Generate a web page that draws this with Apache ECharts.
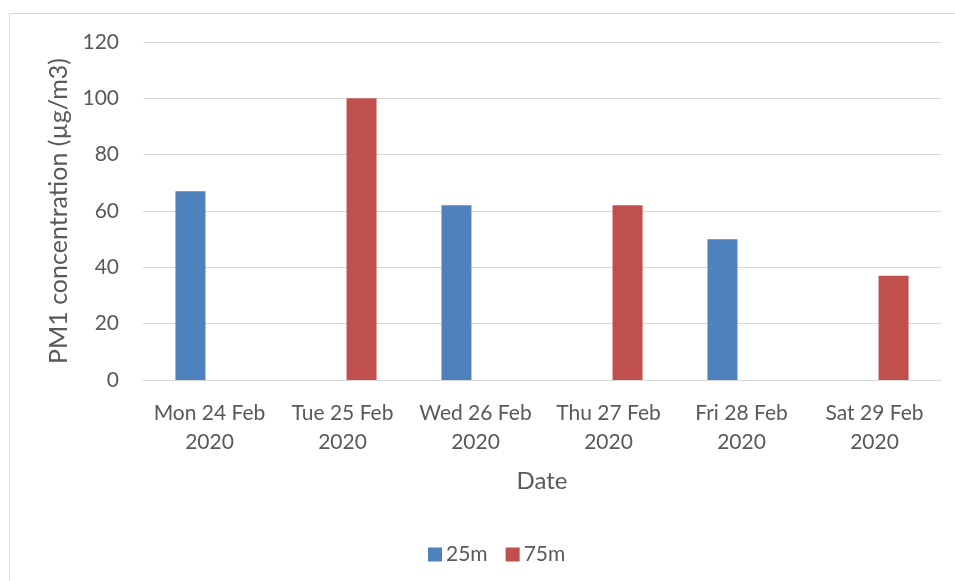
<!DOCTYPE html>
<html>
<head>
<meta charset="utf-8">
<script src="https://cdn.jsdelivr.net/npm/echarts@6/dist/echarts.min.js"></script>
<style>
html,body{margin:0;padding:0;background:#fff;}
#frame{position:absolute;left:9px;top:13px;width:1000px;height:700px;border:1px solid #d9d9d9;box-sizing:border-box;}
#main{position:absolute;left:0;top:0;width:955px;height:581px;}
</style>
</head>
<body>
<div id="frame"></div>
<div id="main"></div>
<script>
const categories = ['Mon 24 Feb\n2020','Tue 25 Feb\n2020','Wed 26 Feb\n2020','Thu 27 Feb\n2020','Fri 28 Feb\n2020','Sat 29 Feb\n2020'];
const series25m = [67, null, 62, null, 50, null];
const series75m = [null, 100, null, 62, null, 37];
const yTicks = {min: 0, max: 120, interval: 20};

const font = 'Lato, Open Sans, sans-serif';
const chart = echarts.init(document.getElementById('main'), null, {renderer: 'canvas'});
chart.setOption({
  animation: false,
  backgroundColor: 'transparent',
  grid: {left: 143, right: 14, top: 42, bottom: 201, containLabel: false},
  legend: {
    data: ['25m','75m'],
    left: 423, top: 539,
    itemWidth: 14, itemHeight: 14, itemGap: 18,
    icon: 'rect',
    textStyle: {color: '#595959', fontSize: 21, fontFamily: font, padding: [0,0,0,-1]}
  },
  xAxis: {
    type: 'category',
    data: categories,
    name: 'Date',
    nameLocation: 'middle',
    nameGap: 89,
    nameTextStyle: {color: '#595959', fontSize: 24, fontFamily: font},
    axisLine: {show: true, lineStyle: {color: '#d9d9d9', width: 1}},
    axisTick: {show: false},
    axisLabel: {color: '#595959', fontSize: 21, fontFamily: font, lineHeight: 29, margin: 19, interval: 0}
  },
  yAxis: {
    type: 'value',
    min: yTicks.min, max: yTicks.max, interval: yTicks.interval,
    name: 'PM1 concentration (µg/m3)',
    nameLocation: 'middle',
    nameGap: 68,
    nameRotate: 90,
    nameTextStyle: {color: '#595959', fontSize: 25, fontFamily: font},
    axisLine: {show: false},
    axisTick: {show: false},
    axisLabel: {color: '#595959', fontSize: 21, fontFamily: font, margin: 24},
    splitLine: {lineStyle: {color: '#d9d9d9', width: 1}}
  },
  series: [
    {name: '25m', type: 'bar', data: series25m, barWidth: 30, barGap: '27%', itemStyle: {color: '#4F81BD'}},
    {name: '75m', type: 'bar', data: series75m, barWidth: 30, barGap: '27%', itemStyle: {color: '#C0504D'}}
  ]
});
</script>
</body>
</html>
